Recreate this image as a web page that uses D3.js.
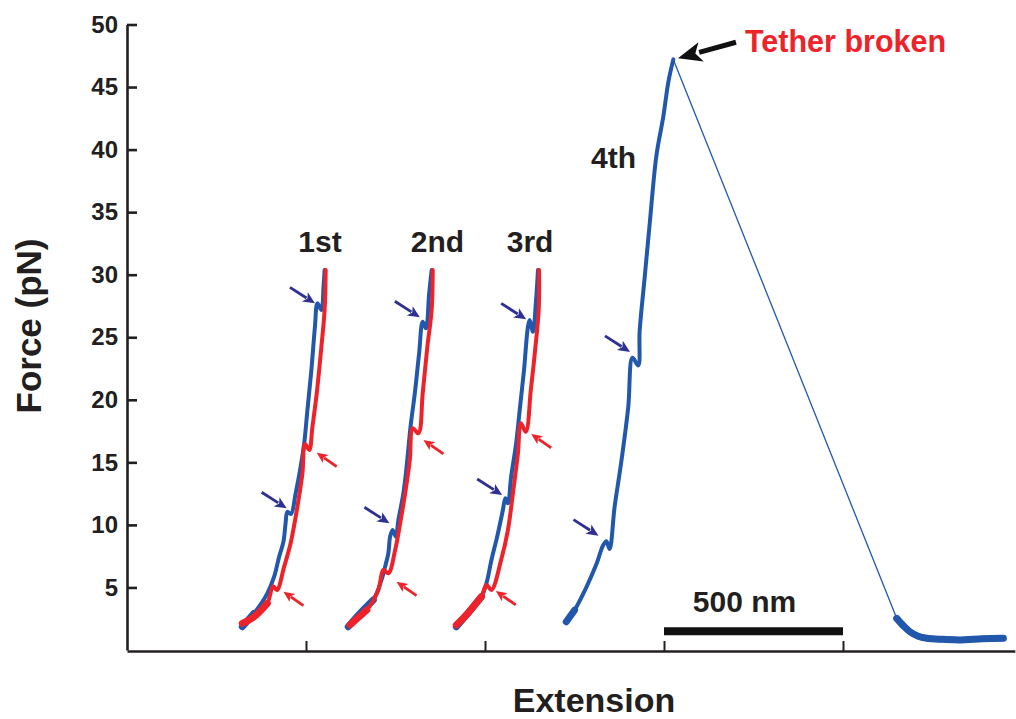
<!DOCTYPE html>
<html>
<head>
<meta charset="utf-8">
<script src="https://cdn.jsdelivr.net/npm/d3@7"></script>
<style>
body{margin:0;background:#fff;}
svg{display:block;}
text{font-family:"Liberation Sans",Arial,Helvetica,sans-serif;font-weight:bold;}
</style>
</head>
<body>
<svg id="chart" width="1016" height="719"></svg>
<script>
// force-extension traces, [extension (nm), force (pN)]
const pull1_stretch=[[322,1.86],[355,2.93],[392,4.53],[411,5.86],[425,7.46],[437,8.66],[443,10.13],[448,11.05],[458,10.87],[471,12.52],[485,14.65],[495,16.52],[504,19.19],[515,22.38],[525,25.85],[532,27.71],[543,27.18],[549,29.04],[552,30.38]];
const pull1_relax=[[555,30.38],[552,27.18],[543,24.25],[530,20.52],[518,17.85],[509,15.99],[497,16.47],[490,14.13],[476,11.46],[457,8.53],[439,6.66],[419,4.80],[408,5.10],[392,3.73],[355,2.66],[322,2.13]];
const pull2_stretch=[[618,1.86],[651,2.93],[688,4.00],[711,5.60],[721,6.66],[730,7.73],[735,9.06],[742,9.59],[751,9.06],[758,10.39],[772,12.53],[781,14.65],[792,17.85],[804,20.52],[816,23.72],[826,26.24],[835,25.72],[844,28.51],[851,30.38]];
const pull2_relax=[[854,30.38],[851,27.18],[839,24.25],[826,20.52],[814,17.32],[798,17.72],[790,15.19],[777,12.53],[763,10.13],[749,7.99],[730,6.13],[716,6.40],[702,4.80],[670,3.20],[623,2.00]];
const pull3_stretch=[[920,1.86],[952,2.93],[990,4.26],[1004,5.33],[1018,7.19],[1034,9.06],[1050,11.19],[1057,12.13],[1064,11.73],[1073,13.85],[1087,16.52],[1097,19.19],[1109,22.38],[1120,25.85],[1125,26.38],[1134,25.44],[1142,27.72],[1148,30.38]];
const pull3_relax=[[1151,30.38],[1150,27.18],[1140,23.98],[1128,20.78],[1114,17.45],[1100,18.12],[1092,15.72],[1078,12.53],[1064,9.59],[1045,7.19],[1018,4.80],[1004,5.20],[990,4.26],[952,2.93],[920,2.00]];
const pull4_stretch=[[1227,2.26],[1250,3.18],[1283,5.01],[1311,6.85],[1330,8.37],[1339,8.69],[1348,8.07],[1362,11.43],[1381,15.10],[1400,19.38],[1412,23.36],[1428,22.75],[1432,25.50],[1446,29.78],[1460,34.06],[1479,39.57],[1498,42.63],[1512,45.38],[1526,47.21]];
const pull4_break=[[1526,47.21],[2150,2.53]];
const pull4_baseline=[[2150,2.53],[2170,1.90],[2187,1.46],[2210,1.10],[2234,0.94],[2280,0.85],[2327,0.80],[2390,0.90],[2448,0.94]];

// event arrows: tip position [extension, force]
const stretch_events=[[525,27.71],[446,11.33],[818,26.6],[733,10.13],[1115,26.43],[1048,12.39],[1405,23.83],[1317,9.14]];
const relax_events=[[530,15.77],[437,4.66],[828,16.79],[753,5.46],[1129,17.27],[1030,4.72]];
const rupture_point=[1539,47.3];

// labels
const pull_labels=[["1st",539,31.8],["2nd",867,31.8],["3rd",1126,31.8],["4th",1359,38.5]];
const y_ticks=[5,10,15,20,25,30,35,40,45,50];
const x_ticks=[500,1000,1500,2000];
const scale_bar={start:1500,length:500,force:1.5,label:"500 nm",label_x:1725,label_force:3.05};

const svg=d3.select("#chart");
const x=d3.scaleLinear().domain([0,2480]).range([127,127+2480*0.358]);
const y=d3.scaleLinear().domain([0,50]).range([650,24.5]);

const axis_color="#231f20";
const blue="#2258ab";
const red="#ee2229";
const navy="#2e3192";

// y axis
const y_axis=svg.append("g")
    .attr("transform","translate("+x(0)+",0)")
    .call(d3.axisLeft(y).tickValues(y_ticks).tickSize(-10).tickSizeOuter(0).tickPadding(9));
y_axis.select(".domain").attr("stroke",axis_color).attr("stroke-width",2.6);
y_axis.selectAll(".tick line").attr("stroke",axis_color).attr("stroke-width",2.6);
y_axis.selectAll(".tick text")
    .attr("fill",axis_color)
    .style("font-size","24px")
    .style("font-family","'Liberation Sans',Arial,sans-serif")
    .style("font-weight","bold");

// x axis
const x_axis=svg.append("g")
    .attr("transform","translate(0,"+(y(0)+1)+")")
    .call(d3.axisBottom(x).tickValues(x_ticks).tickSize(-10).tickSizeOuter(0).tickFormat(""));
x_axis.select(".domain").attr("stroke",axis_color).attr("stroke-width",2.6);
x_axis.selectAll(".tick line").attr("stroke",axis_color).attr("stroke-width",2);

// axis titles
svg.append("text")
    .attr("x",594).attr("y",712)
    .attr("text-anchor","middle")
    .attr("fill",axis_color)
    .style("font-size","34px")
    .text("Extension");
svg.append("text")
    .attr("transform","translate(41,326) rotate(-90)")
    .attr("text-anchor","middle")
    .attr("fill",axis_color)
    .style("font-size","35px")
    .text("Force (pN)");

// traces
const line=d3.line().x(d=>x(d[0])).y(d=>y(d[1])).curve(d3.curveCatmullRom.alpha(0.5));
const traces=[
    [pull1_stretch,blue,4],[pull1_relax,red,4],
    [pull2_stretch,blue,4],[pull2_relax,red,4],
    [pull3_stretch,blue,4],[pull3_relax,red,4],
    [pull4_stretch,blue,4],[pull4_break,blue,1.3],[pull4_baseline,blue,6]
];
for (const t of traces){
    svg.append("path")
        .attr("d",line(t[0]))
        .attr("fill","none")
        .attr("stroke",t[1])
        .attr("stroke-width",t[2])
        .attr("stroke-linejoin","round")
        .attr("stroke-linecap","round");
    // low force part is noisier, draw it wider
    if (t[2]>2){
        const low=t[0].filter(d=>d[1]<4.5);
        if (low.length>1){
            svg.append("path")
                .attr("d",line(low))
                .attr("fill","none")
                .attr("stroke",t[1])
                .attr("stroke-width",7)
                .attr("stroke-linecap","round");
        }
    }
}

// arrows, tail given as pixel offset from tip
function draw_arrow(tip_x,tip_y,dx,dy,color,width,head_len,head_w){
    const len=Math.sqrt(dx*dx+dy*dy);
    const ux=-dx/len, uy=-dy/len;
    const nx=-uy, ny=ux;
    const bx=tip_x-ux*head_len, by=tip_y-uy*head_len;
    svg.append("line")
        .attr("x1",tip_x+dx).attr("y1",tip_y+dy)
        .attr("x2",bx+ux*2).attr("y2",by+uy*2)
        .attr("stroke",color)
        .attr("stroke-width",width);
    svg.append("path")
        .attr("d","M"+tip_x+","+tip_y+"L"+(bx+nx*head_w)+","+(by+ny*head_w)+"L"+(bx+ux*head_len*0.25)+","+(by+uy*head_len*0.25)+"L"+(bx-nx*head_w)+","+(by-ny*head_w)+"Z")
        .attr("fill",color);
}
for (const e of stretch_events){
    draw_arrow(x(e[0]),y(e[1]),-25,-16,navy,2.8,12,5.5);
}
for (const e of relax_events){
    draw_arrow(x(e[0]),y(e[1]),20,14,red,2.8,11,5);
}
draw_arrow(x(rupture_point[0]),y(rupture_point[1]),58,-16,"#111",5,24,10);

svg.append("text")
    .attr("x",x(rupture_point[0])+67).attr("y",y(47.8))
    .attr("fill",red)
    .style("font-size","30.5px")
    .text("Tether broken");

// pull labels
for (const l of pull_labels){
    svg.append("text")
        .attr("x",x(l[1])).attr("y",y(l[2]))
        .attr("text-anchor","middle")
        .attr("fill",axis_color)
        .style("font-size","30px")
        .text(l[0]);
}

// scale bar
svg.append("line")
    .attr("x1",x(scale_bar.start)).attr("x2",x(scale_bar.start+scale_bar.length))
    .attr("y1",y(scale_bar.force)).attr("y2",y(scale_bar.force))
    .attr("stroke","#111")
    .attr("stroke-width",8);
svg.append("text")
    .attr("x",x(scale_bar.label_x))
    .attr("y",y(scale_bar.label_force))
    .attr("text-anchor","middle")
    .attr("fill",axis_color)
    .style("font-size","30px")
    .text(scale_bar.label);
</script>
</body>
</html>
